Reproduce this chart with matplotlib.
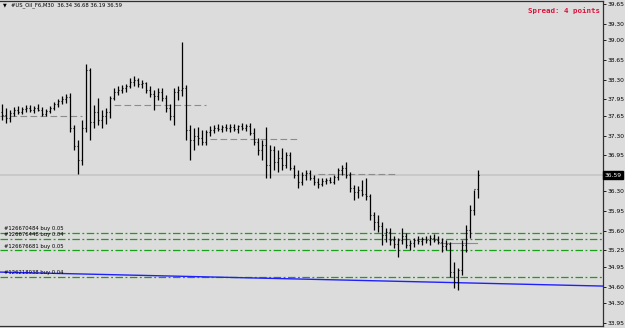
import matplotlib
matplotlib.use("Agg")
import matplotlib.pyplot as plt
import numpy as np

# M30 bars, US oil (open, high, low, close)
opens = [37.72, 37.67, 37.61, 37.70, 37.76, 37.72, 37.77, 37.79, 37.76, 37.79,
         37.76, 37.68, 37.74, 37.79, 37.86, 37.92, 37.95, 37.99, 37.43, 37.11,
         36.86, 37.43, 38.47, 37.54, 37.72, 37.58, 37.65, 37.72, 37.97, 38.08,
         38.11, 38.15, 38.18, 38.26, 38.29, 38.22, 38.24, 38.11, 38.04, 38.01,
         38.08, 37.97, 37.79, 37.65, 38.08, 38.11, 38.15, 37.40, 37.22, 37.29,
         37.26, 37.18, 37.36, 37.40, 37.43, 37.42, 37.45, 37.43, 37.45, 37.42,
         37.47, 37.43, 37.47, 37.35, 37.18, 37.04, 37.13, 36.77, 37.04, 36.83,
         36.90, 36.77, 36.95, 36.72, 36.59, 36.47, 36.59, 36.63, 36.54, 36.47,
         36.43, 36.49, 36.51, 36.47, 36.56, 36.68, 36.72, 36.59, 36.36, 36.29,
         36.33, 36.26, 36.22, 35.88, 35.76, 35.68, 35.52, 35.58, 35.43, 35.36,
         35.43, 35.50, 35.34, 35.38, 35.43, 35.41, 35.45, 35.43, 35.47, 35.43,
         35.40, 35.33, 35.36, 34.86, 34.68, 34.90, 35.34, 35.61, 35.97, 36.34]
highs = [37.86, 37.79, 37.76, 37.81, 37.83, 37.81, 37.85, 37.85, 37.83, 37.86,
         37.81, 37.77, 37.83, 37.90, 37.95, 38.01, 38.04, 38.06, 37.49, 37.22,
         37.58, 38.58, 38.51, 37.85, 37.97, 37.76, 37.79, 38.01, 38.15, 38.18,
         38.20, 38.22, 38.33, 38.36, 38.33, 38.29, 38.26, 38.18, 38.11, 38.15,
         38.15, 38.02, 37.86, 38.15, 38.18, 38.97, 38.20, 37.49, 37.43, 37.45,
         37.40, 37.40, 37.47, 37.49, 37.51, 37.49, 37.51, 37.51, 37.51, 37.49,
         37.52, 37.51, 37.52, 37.43, 37.26, 37.22, 37.45, 37.13, 37.11, 37.04,
         37.08, 37.01, 37.01, 36.77, 36.68, 36.65, 36.68, 36.68, 36.59, 36.54,
         36.54, 36.54, 36.56, 36.59, 36.72, 36.77, 36.83, 36.65, 36.42, 36.40,
         36.51, 36.54, 36.26, 35.93, 35.88, 35.76, 35.65, 35.65, 35.50, 35.47,
         35.65, 35.56, 35.43, 35.47, 35.50, 35.49, 35.50, 35.52, 35.54, 35.50,
         35.47, 35.43, 35.40, 35.04, 34.93, 35.43, 35.70, 36.06, 36.33, 36.68]
lows = [37.58, 37.52, 37.54, 37.65, 37.68, 37.68, 37.72, 37.72, 37.70, 37.74,
        37.65, 37.65, 37.70, 37.76, 37.81, 37.86, 37.88, 37.36, 37.04, 36.61,
        36.77, 37.36, 37.22, 37.43, 37.49, 37.43, 37.51, 37.61, 37.93, 38.02,
        38.06, 38.08, 38.15, 38.18, 38.17, 38.15, 38.06, 37.99, 37.76, 37.93,
        37.92, 37.72, 37.58, 37.49, 37.93, 38.01, 37.22, 36.86, 37.04, 37.13,
        37.13, 37.13, 37.29, 37.35, 37.38, 37.36, 37.38, 37.36, 37.38, 37.35,
        37.40, 37.38, 37.31, 37.13, 36.95, 36.86, 36.54, 36.54, 36.68, 36.65,
        36.68, 36.72, 36.68, 36.54, 36.36, 36.42, 36.51, 36.51, 36.42, 36.36,
        36.40, 36.43, 36.45, 36.43, 36.51, 36.59, 36.54, 36.29, 36.15, 36.18,
        36.22, 36.15, 35.79, 35.61, 35.58, 35.34, 35.40, 35.34, 35.29, 35.13,
        35.36, 35.29, 35.25, 35.31, 35.36, 35.34, 35.38, 35.34, 35.40, 35.36,
        35.22, 35.25, 34.77, 34.58, 34.54, 34.81, 35.22, 35.47, 35.88, 36.19]
closes = [37.67, 37.61, 37.70, 37.76, 37.72, 37.77, 37.79, 37.76, 37.79, 37.76,
          37.68, 37.74, 37.79, 37.86, 37.92, 37.95, 37.99, 37.43, 37.11, 36.86,
          37.43, 38.47, 37.54, 37.72, 37.58, 37.65, 37.72, 37.97, 38.08, 38.11,
          38.15, 38.18, 38.26, 38.29, 38.22, 38.24, 38.11, 38.04, 38.01, 38.08,
          37.97, 37.79, 37.65, 38.08, 38.11, 38.15, 37.40, 37.22, 37.29, 37.26,
          37.18, 37.36, 37.40, 37.43, 37.42, 37.45, 37.43, 37.45, 37.42, 37.47,
          37.43, 37.47, 37.35, 37.18, 37.04, 37.13, 36.77, 37.04, 36.83, 36.90,
          36.77, 36.95, 36.72, 36.59, 36.47, 36.59, 36.63, 36.54, 36.47, 36.43,
          36.49, 36.51, 36.47, 36.56, 36.68, 36.72, 36.59, 36.36, 36.29, 36.33,
          36.26, 36.22, 35.88, 35.76, 35.68, 35.52, 35.58, 35.43, 35.36, 35.43,
          35.50, 35.34, 35.38, 35.43, 35.41, 35.45, 35.43, 35.47, 35.43, 35.40,
          35.33, 35.36, 34.86, 34.68, 34.90, 35.34, 35.61, 35.97, 36.34, 36.59]

last_price = 36.59
tick_prices = [39.65, 39.30, 39.00, 38.65, 38.30, 37.95, 37.65, 37.30, 36.95,
               36.30, 35.95, 35.60, 35.25, 34.95, 34.60, 34.30, 33.95]

# open orders
order_labels = ["#126670484 buy 0.05", "#126676448 buy 0.04",
                "#126676681 buy 0.05", "#126218938 buy 0.04"]
order_prices = [35.56, 35.45, 35.25, 34.78]

# grey dashed levels: (price, first bar, last bar)
level_prices = [37.65, 37.84, 37.23, 36.62]
level_start = [-0.5, 28, 52, 79]
level_end = [20, 51, 74.5, 99]
entry_price = 35.38

trend_prices = [34.86, 34.61]

BG = "#dcdcdc"
fig = plt.figure(figsize=(6.25, 3.28), dpi=100, facecolor=BG)
ax = fig.add_axes([0.0, 0.006, 0.9648, 0.991], facecolor=BG)

n = len(closes)
x = np.arange(n)
x_right = 150.25
ax.set_xlim(-0.5, x_right)
ax.set_ylim(33.896, 39.704)

# current price line
ax.axhline(last_price, color="#c6c6c6", lw=1.2, zorder=1)

for p, a, b in zip(level_prices, level_start, level_end):
    ax.plot([a, b], [p, p], color="#8c8c8c", lw=0.8, ls=(0, (6, 3)), zorder=1)
ax.plot([109.5, 118.8], [entry_price, entry_price], color="#8c8c8c", lw=0.8, zorder=1)

for lbl, p in zip(order_labels, order_prices):
    ax.axhline(p, color="#18a018", lw=0.9, ls=(0, (6, 2, 1.5, 2)), zorder=1)
    ax.text(0.6, p + 0.03, lbl, fontsize=3.8, color="black", va="bottom", ha="left")

ax.plot([-0.5, x_right], trend_prices, color="#2020ff", lw=1.0, zorder=2)

# OHLC bars
ax.vlines(x, lows, highs, color="black", lw=0.9, zorder=3)
ax.hlines(opens, x - 0.35, x, color="black", lw=0.8, zorder=3)
ax.hlines(closes, x, x + 0.35, color="black", lw=0.8, zorder=3)

ax.yaxis.tick_right()
ax.set_yticks(tick_prices)
ax.set_yticklabels([f"{v:.2f}" for v in tick_prices])
ax.tick_params(axis="y", direction="out", length=2, width=0.6, pad=1.5,
               labelsize=4.3, colors="black")
ax.set_xticks([])
ax.spines["left"].set_visible(False)
for s in ["right", "top", "bottom"]:
    ax.spines[s].set_linewidth(0.9)
    ax.spines[s].set_color("#303030")

ax.text(1.002, last_price, f"{last_price:.2f}", transform=ax.get_yaxis_transform(),
        fontsize=4.3, color="white", va="center", ha="left",
        bbox=dict(boxstyle="square,pad=0.25", fc="black", ec="black"))

fig.text(3 / 625, 1 - 5 / 328, "\u25bc", fontsize=3.5, va="center", ha="left")
fig.text(11 / 625, 1 - 5 / 328, "#US_Oil_F6,M30  36.34 36.68 36.19 36.59",
         fontsize=3.8, va="center", ha="left")
fig.text(600 / 625, 1 - 11 / 328, "Spread: 4 points", fontsize=5.4,
         family="DejaVu Sans Mono", weight="bold", color="#dc143c",
         va="center", ha="right")

fig.savefig("out.png", dpi=100, facecolor=BG)
